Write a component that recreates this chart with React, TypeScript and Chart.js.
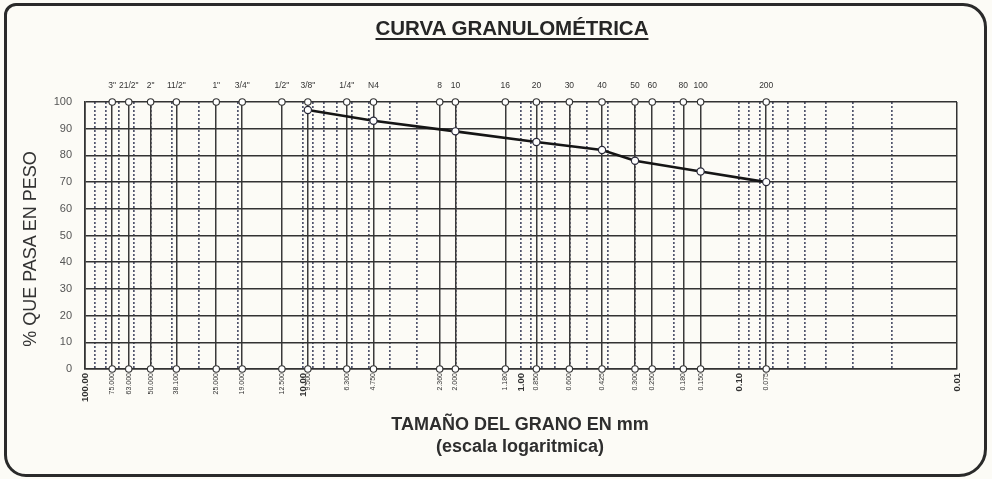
import React, { useEffect, useRef } from "react";
import { Chart, registerables } from "chart.js";

Chart.register(...registerables);

// ---- Data ----
const SIEVE_NAMES = ['3"', '21/2"', '2"', '11/2"', '1"', '3/4"', '1/2"', '3/8"', '1/4"', "N4", "8", "10", "16", "20", "30", "40", "50", "60", "80", "100", "200"];
const SIEVE_MM = [75, 63, 50, 38.1, 25, 19, 12.5, 9.5, 6.3, 4.75, 2.36, 2.0, 1.18, 0.85, 0.6, 0.425, 0.3, 0.25, 0.18, 0.15, 0.075];
const SIEVE_MM_LABELS = ["75.000", "63.000", "50.000", "38.100", "25.000", "19.000", "12.500", "9.500", "6.300", "4.750", "2.360", "2.000", "1.180", "0.850", "0.600", "0.425", "0.300", "0.250", "0.180", "0.150", "0.075"];
const DECADE_MM = [100, 10, 1, 0.1, 0.01];
const DECADE_LABELS = ["100.00", "10.00", "1.00", "0.10", "0.01"];
const MINOR_MM = [90, 80, 70, 60, 50, 40, 30, 20, 10, 9, 8, 7, 6, 5, 4, 3, 2, 1, 0.9, 0.8, 0.7, 0.6, 0.5, 0.4, 0.3, 0.2, 0.1, 0.09, 0.08, 0.07, 0.06, 0.05, 0.04, 0.03, 0.02];
const CURVE_MM = [9.5, 4.75, 2.0, 0.85, 0.425, 0.3, 0.15, 0.075];
const CURVE_PASS = [97, 93, 89, 85, 82, 78, 74, 70];
const Y_TICKS = [0, 10, 20, 30, 40, 50, 60, 70, 80, 90, 100];

const TITLE = "CURVA GRANULOMÉTRICA";
const Y_TITLE = "% QUE PASA EN PESO";
const X_TITLE_1 = "TAMAÑO DEL GRANO EN mm";
const X_TITLE_2 = "(escala logaritmica)";

const FONT = "'Liberation Sans', Arial, Helvetica, sans-serif";
const PAPER = "#fcfbf6";

function bottomLabel(v: number): string {
  const d = DECADE_MM.indexOf(v);
  if (d >= 0) return DECADE_LABELS[d];
  const s = SIEVE_MM.indexOf(v);
  return s >= 0 ? SIEVE_MM_LABELS[s] : "";
}

export default function App() {
  const ref = useRef<HTMLCanvasElement>(null);

  useEffect(() => {
    const canvas = ref.current;
    if (!canvas) return;
    const bottomTicks = [...DECADE_MM, ...SIEVE_MM];
    const edges = [DECADE_MM[0], DECADE_MM[DECADE_MM.length - 1]];
    const isDecade = (v: number) => DECADE_MM.includes(v);
    const logBase: any = { type: "logarithmic", reverse: true, min: 0.01, max: 100 };

    const chart = new Chart(canvas, {
      type: "scatter",
      data: {
        datasets: [
          {
            label: "curva",
            data: CURVE_MM.map((x, i) => ({ x, y: CURVE_PASS[i] })),
            showLine: true,
            borderColor: "#151515",
            borderWidth: 2.6,
            pointRadius: 3.6,
            pointBackgroundColor: "#ffffff",
            pointBorderColor: "#2a2a3a",
            pointBorderWidth: 1.2,
            clip: false,
          } as any,
          {
            label: "top",
            data: SIEVE_MM.map((x) => ({ x, y: Y_TICKS[Y_TICKS.length - 1] })),
            showLine: false,
            pointRadius: 3.2,
            pointBackgroundColor: "#ffffff",
            pointBorderColor: "#333333",
            pointBorderWidth: 1.1,
            clip: false,
          } as any,
          {
            label: "bottom",
            data: SIEVE_MM.map((x) => ({ x, y: Y_TICKS[0] })),
            showLine: false,
            pointRadius: 3.2,
            pointBackgroundColor: "#ffffff",
            pointBorderColor: "#333333",
            pointBorderWidth: 1.1,
            clip: false,
          } as any,
        ],
      },
      options: {
        animation: false,
        responsive: false,
        maintainAspectRatio: false,
        layout: { padding: { left: 0, right: 35, top: 0, bottom: 0 } },
        plugins: { legend: { display: false }, tooltip: { enabled: false }, title: { display: false } },
        scales: {
          xMinor: {
            ...logBase,
            position: "bottom",
            afterBuildTicks: (s: any) => {
              s.ticks = MINOR_MM.map((v) => ({ value: v }));
            },
            afterFit: (s: any) => {
              s.height = 0;
            },
            ticks: { display: false },
            grid: { color: "rgba(50,55,85,0.85)", lineWidth: 1.7, drawTicks: false },
            border: { display: false, dash: [2, 2] },
          },
          x: {
            ...logBase,
            position: "bottom",
            afterBuildTicks: (s: any) => {
              s.ticks = bottomTicks.map((v) => ({ value: v }));
            },
            afterFit: (s: any) => {
              s.height = 110;
            },
            ticks: {
              autoSkip: false,
              minRotation: 90,
              maxRotation: 90,
              padding: 4,
              color: "#333",
              font: (ctx: any) =>
                isDecade(ctx.tick ? ctx.tick.value : NaN)
                  ? { family: FONT, size: 9.5, weight: "bold" }
                  : { family: FONT, size: 7 },
              callback: (v: any) => bottomLabel(Number(v)),
            },
            grid: {
              color: (ctx: any) => {
                const v = ctx.tick ? ctx.tick.value : NaN;
                if (edges.includes(v)) return "#333333";
                if (isDecade(v)) return "rgba(0,0,0,0)";
                return "#3a3a3a";
              },
              lineWidth: 1.5,
              drawTicks: false,
            },
            border: { display: true, color: "#333", width: 1.6 },
          },
          xTop: {
            ...logBase,
            position: "top",
            afterBuildTicks: (s: any) => {
              s.ticks = SIEVE_MM.map((v) => ({ value: v }));
            },
            afterFit: (s: any) => {
              s.height = 102;
            },
            ticks: {
              autoSkip: false,
              minRotation: 0,
              maxRotation: 0,
              padding: 11,
              color: "#333",
              font: { family: FONT, size: 8.5 },
              callback: (v: any) => SIEVE_NAMES[SIEVE_MM.indexOf(Number(v))],
            },
            grid: { display: false, drawTicks: false },
            border: { display: false },
          },
          y: {
            type: "linear",
            min: 0,
            max: 100,
            afterBuildTicks: (s: any) => {
              s.ticks = Y_TICKS.map((v) => ({ value: v }));
            },
            afterFit: (s: any) => {
              s.width = 85;
            },
            ticks: { padding: 13, color: "#555", font: { family: FONT, size: 11 } },
            grid: { color: "#333333", lineWidth: 1.6, drawTicks: false },
            border: { display: true, color: "#333", width: 1.6 },
          },
        },
      } as any,
    });
    return () => chart.destroy();
  }, []);

  return (
    <div
      style={{
        position: "fixed",
        left: 0,
        top: 0,
        width: 992,
        height: 479,
        overflow: "hidden",
        background: PAPER,
        fontFamily: FONT,
      }}
    >
      <canvas
        ref={ref}
        width={992}
        height={479}
        style={{ position: "absolute", left: 0, top: 0, width: 992, height: 479 }}
      />
      <div
        style={{
          position: "absolute",
          left: 4,
          top: 3,
          width: 983,
          height: 474,
          boxSizing: "border-box",
          border: "3px solid #2a2a2a",
          borderRadius: "12px 24px 28px 22px",
        }}
      />
      <div
        style={{
          position: "absolute",
          left: 262,
          width: 500,
          top: 16,
          textAlign: "center",
          fontSize: 20.5,
          fontWeight: "bold",
          color: "#262626",
          textDecoration: "underline",
          textUnderlineOffset: 3,
          textDecorationThickness: 2,
          whiteSpace: "nowrap",
        }}
      >
        {TITLE}
      </div>
      <div
        style={{
          position: "absolute",
          left: 30,
          top: 249,
          transform: "translate(-50%, -50%) rotate(-90deg)",
          fontSize: 18,
          color: "#333",
          whiteSpace: "nowrap",
        }}
      >
        {Y_TITLE}
      </div>
      <div
        style={{
          position: "absolute",
          left: 270,
          width: 500,
          top: 413,
          textAlign: "center",
          fontSize: 18,
          fontWeight: "bold",
          color: "#2e2e2e",
          lineHeight: "22px",
          whiteSpace: "nowrap",
        }}
      >
        <div>{X_TITLE_1}</div>
        <div>{X_TITLE_2}</div>
      </div>
    </div>
  );
}
